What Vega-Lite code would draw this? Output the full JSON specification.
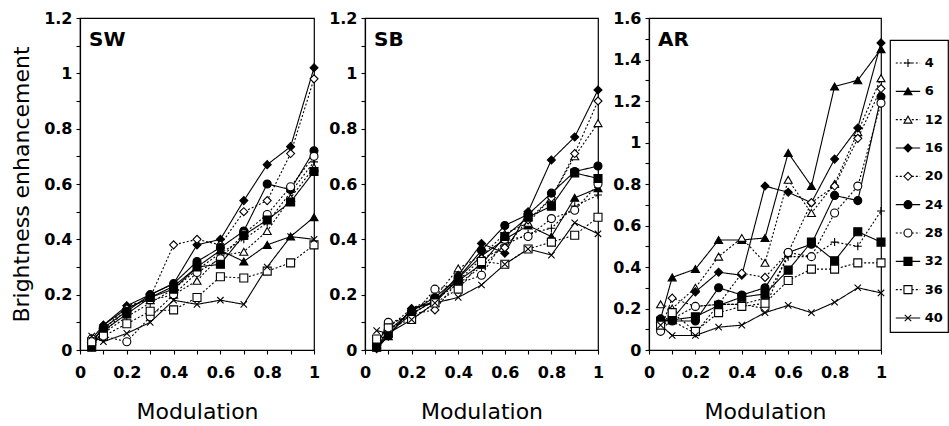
{
"$schema": "https://vega.github.io/schema/vega-lite/v6.json",
"background": "white",
"padding": {"left": 10, "top": 9, "right": 0, "bottom": 0},
"config": {
  "font": "DejaVu Sans",
  "view": {"stroke": "black", "strokeWidth": 1.2},
  "axis": {"grid": false, "domainColor": "black", "domainWidth": 1.2, "tickColor": "black", "tickWidth": 1.1, "tickSize": 4,
    "labelColor": "black", "titleColor": "black", "labelFont": "DejaVu Sans", "labelFontWeight": "bold", "labelFontSize": 16,
    "titleFont": "DejaVu Sans", "titleFontSize": 22, "titleFontWeight": "normal", "labelFlush": false, "labelOverlap": false},
  "axisX": {"labelPadding": 10, "titlePadding": 21},
  "axisY": {"labelPadding": 4, "titlePadding": 10},
  "title": {"font": "DejaVu Sans", "fontSize": 20, "fontWeight": "bold", "color": "black", "anchor": "start", "frame": "group", "baseline": "bottom", "offset": 0, "dx": 9, "dy": 44}
},
"datasets": {
"leg": [{"s":"4"},{"s":"6"},{"s":"12"},{"s":"16"},{"s":"20"},{"s":"24"},{"s":"28"},{"s":"32"},{"s":"36"},{"s":"40"}],
"d": [
{"p":"SW","s":"4","x":0.05,"y":0.03},{"p":"SW","s":"4","x":0.1,"y":0.06},{"p":"SW","s":"4","x":0.2,"y":0.12},{"p":"SW","s":"4","x":0.3,"y":0.17},{"p":"SW","s":"4","x":0.4,"y":0.22},{"p":"SW","s":"4","x":0.5,"y":0.29},{"p":"SW","s":"4","x":0.6,"y":0.35},{"p":"SW","s":"4","x":0.7,"y":0.40},{"p":"SW","s":"4","x":0.8,"y":0.46},{"p":"SW","s":"4","x":0.9,"y":0.57},{"p":"SW","s":"4","x":1,"y":0.68},
{"p":"SW","s":"6","x":0.05,"y":0.04},{"p":"SW","s":"6","x":0.1,"y":0.09},{"p":"SW","s":"6","x":0.2,"y":0.15},{"p":"SW","s":"6","x":0.3,"y":0.19},{"p":"SW","s":"6","x":0.4,"y":0.23},{"p":"SW","s":"6","x":0.5,"y":0.30},{"p":"SW","s":"6","x":0.6,"y":0.36},{"p":"SW","s":"6","x":0.7,"y":0.32},{"p":"SW","s":"6","x":0.8,"y":0.38},{"p":"SW","s":"6","x":0.9,"y":0.41},{"p":"SW","s":"6","x":1,"y":0.48},
{"p":"SW","s":"12","x":0.05,"y":0.04},{"p":"SW","s":"12","x":0.1,"y":0.07},{"p":"SW","s":"12","x":0.2,"y":0.16},{"p":"SW","s":"12","x":0.3,"y":0.18},{"p":"SW","s":"12","x":0.4,"y":0.20},{"p":"SW","s":"12","x":0.5,"y":0.25},{"p":"SW","s":"12","x":0.6,"y":0.34},{"p":"SW","s":"12","x":0.7,"y":0.355},{"p":"SW","s":"12","x":0.8,"y":0.43},{"p":"SW","s":"12","x":0.9,"y":0.55},{"p":"SW","s":"12","x":1,"y":0.66},
{"p":"SW","s":"16","x":0.05,"y":0.02},{"p":"SW","s":"16","x":0.1,"y":0.09},{"p":"SW","s":"16","x":0.2,"y":0.16},{"p":"SW","s":"16","x":0.3,"y":0.20},{"p":"SW","s":"16","x":0.4,"y":0.24},{"p":"SW","s":"16","x":0.5,"y":0.38},{"p":"SW","s":"16","x":0.6,"y":0.40},{"p":"SW","s":"16","x":0.7,"y":0.54},{"p":"SW","s":"16","x":0.8,"y":0.67},{"p":"SW","s":"16","x":0.9,"y":0.735},{"p":"SW","s":"16","x":1,"y":1.02},
{"p":"SW","s":"20","x":0.05,"y":0.04},{"p":"SW","s":"20","x":0.1,"y":0.06},{"p":"SW","s":"20","x":0.2,"y":0.15},{"p":"SW","s":"20","x":0.3,"y":0.19},{"p":"SW","s":"20","x":0.4,"y":0.38},{"p":"SW","s":"20","x":0.5,"y":0.40},{"p":"SW","s":"20","x":0.6,"y":0.38},{"p":"SW","s":"20","x":0.7,"y":0.50},{"p":"SW","s":"20","x":0.8,"y":0.54},{"p":"SW","s":"20","x":0.9,"y":0.71},{"p":"SW","s":"20","x":1,"y":0.98},
{"p":"SW","s":"24","x":0.05,"y":0.03},{"p":"SW","s":"24","x":0.1,"y":0.08},{"p":"SW","s":"24","x":0.2,"y":0.14},{"p":"SW","s":"24","x":0.3,"y":0.20},{"p":"SW","s":"24","x":0.4,"y":0.24},{"p":"SW","s":"24","x":0.5,"y":0.32},{"p":"SW","s":"24","x":0.6,"y":0.37},{"p":"SW","s":"24","x":0.7,"y":0.43},{"p":"SW","s":"24","x":0.8,"y":0.60},{"p":"SW","s":"24","x":0.9,"y":0.58},{"p":"SW","s":"24","x":1,"y":0.72},
{"p":"SW","s":"28","x":0.05,"y":0.04},{"p":"SW","s":"28","x":0.1,"y":0.05},{"p":"SW","s":"28","x":0.2,"y":0.03},{"p":"SW","s":"28","x":0.3,"y":0.12},{"p":"SW","s":"28","x":0.4,"y":0.20},{"p":"SW","s":"28","x":0.5,"y":0.28},{"p":"SW","s":"28","x":0.6,"y":0.33},{"p":"SW","s":"28","x":0.7,"y":0.42},{"p":"SW","s":"28","x":0.8,"y":0.49},{"p":"SW","s":"28","x":0.9,"y":0.59},{"p":"SW","s":"28","x":1,"y":0.70},
{"p":"SW","s":"32","x":0.05,"y":0.01},{"p":"SW","s":"32","x":0.1,"y":0.07},{"p":"SW","s":"32","x":0.2,"y":0.13},{"p":"SW","s":"32","x":0.3,"y":0.19},{"p":"SW","s":"32","x":0.4,"y":0.22},{"p":"SW","s":"32","x":0.5,"y":0.30},{"p":"SW","s":"32","x":0.6,"y":0.31},{"p":"SW","s":"32","x":0.7,"y":0.415},{"p":"SW","s":"32","x":0.8,"y":0.47},{"p":"SW","s":"32","x":0.9,"y":0.535},{"p":"SW","s":"32","x":1,"y":0.645},
{"p":"SW","s":"36","x":0.05,"y":0.03},{"p":"SW","s":"36","x":0.1,"y":0.05},{"p":"SW","s":"36","x":0.2,"y":0.095},{"p":"SW","s":"36","x":0.3,"y":0.14},{"p":"SW","s":"36","x":0.4,"y":0.145},{"p":"SW","s":"36","x":0.5,"y":0.19},{"p":"SW","s":"36","x":0.6,"y":0.265},{"p":"SW","s":"36","x":0.7,"y":0.26},{"p":"SW","s":"36","x":0.8,"y":0.285},{"p":"SW","s":"36","x":0.9,"y":0.315},{"p":"SW","s":"36","x":1,"y":0.38},
{"p":"SW","s":"40","x":0.05,"y":0.05},{"p":"SW","s":"40","x":0.1,"y":0.03},{"p":"SW","s":"40","x":0.2,"y":0.06},{"p":"SW","s":"40","x":0.3,"y":0.10},{"p":"SW","s":"40","x":0.4,"y":0.18},{"p":"SW","s":"40","x":0.5,"y":0.165},{"p":"SW","s":"40","x":0.6,"y":0.18},{"p":"SW","s":"40","x":0.7,"y":0.165},{"p":"SW","s":"40","x":0.8,"y":0.30},{"p":"SW","s":"40","x":0.9,"y":0.41},{"p":"SW","s":"40","x":1,"y":0.40},
{"p":"SB","s":"4","x":0.05,"y":0.02},{"p":"SB","s":"4","x":0.1,"y":0.07},{"p":"SB","s":"4","x":0.2,"y":0.13},{"p":"SB","s":"4","x":0.3,"y":0.18},{"p":"SB","s":"4","x":0.4,"y":0.24},{"p":"SB","s":"4","x":0.5,"y":0.30},{"p":"SB","s":"4","x":0.6,"y":0.38},{"p":"SB","s":"4","x":0.7,"y":0.42},{"p":"SB","s":"4","x":0.8,"y":0.44},{"p":"SB","s":"4","x":0.9,"y":0.52},{"p":"SB","s":"4","x":1,"y":0.56},
{"p":"SB","s":"6","x":0.05,"y":0.01},{"p":"SB","s":"6","x":0.1,"y":0.05},{"p":"SB","s":"6","x":0.2,"y":0.15},{"p":"SB","s":"6","x":0.3,"y":0.17},{"p":"SB","s":"6","x":0.4,"y":0.26},{"p":"SB","s":"6","x":0.5,"y":0.34},{"p":"SB","s":"6","x":0.6,"y":0.40},{"p":"SB","s":"6","x":0.7,"y":0.45},{"p":"SB","s":"6","x":0.8,"y":0.41},{"p":"SB","s":"6","x":0.9,"y":0.55},{"p":"SB","s":"6","x":1,"y":0.585},
{"p":"SB","s":"12","x":0.05,"y":0.03},{"p":"SB","s":"12","x":0.1,"y":0.08},{"p":"SB","s":"12","x":0.2,"y":0.15},{"p":"SB","s":"12","x":0.3,"y":0.19},{"p":"SB","s":"12","x":0.4,"y":0.295},{"p":"SB","s":"12","x":0.5,"y":0.34},{"p":"SB","s":"12","x":0.6,"y":0.42},{"p":"SB","s":"12","x":0.7,"y":0.46},{"p":"SB","s":"12","x":0.8,"y":0.55},{"p":"SB","s":"12","x":0.9,"y":0.70},{"p":"SB","s":"12","x":1,"y":0.82},
{"p":"SB","s":"16","x":0.05,"y":0.005},{"p":"SB","s":"16","x":0.1,"y":0.05},{"p":"SB","s":"16","x":0.2,"y":0.15},{"p":"SB","s":"16","x":0.3,"y":0.175},{"p":"SB","s":"16","x":0.4,"y":0.27},{"p":"SB","s":"16","x":0.5,"y":0.385},{"p":"SB","s":"16","x":0.6,"y":0.35},{"p":"SB","s":"16","x":0.7,"y":0.50},{"p":"SB","s":"16","x":0.8,"y":0.687},{"p":"SB","s":"16","x":0.9,"y":0.77},{"p":"SB","s":"16","x":1,"y":0.94},
{"p":"SB","s":"20","x":0.05,"y":0.02},{"p":"SB","s":"20","x":0.1,"y":0.09},{"p":"SB","s":"20","x":0.2,"y":0.13},{"p":"SB","s":"20","x":0.3,"y":0.145},{"p":"SB","s":"20","x":0.4,"y":0.25},{"p":"SB","s":"20","x":0.5,"y":0.33},{"p":"SB","s":"20","x":0.6,"y":0.37},{"p":"SB","s":"20","x":0.7,"y":0.47},{"p":"SB","s":"20","x":0.8,"y":0.55},{"p":"SB","s":"20","x":0.9,"y":0.71},{"p":"SB","s":"20","x":1,"y":0.90},
{"p":"SB","s":"24","x":0.05,"y":0.01},{"p":"SB","s":"24","x":0.1,"y":0.07},{"p":"SB","s":"24","x":0.2,"y":0.14},{"p":"SB","s":"24","x":0.3,"y":0.19},{"p":"SB","s":"24","x":0.4,"y":0.26},{"p":"SB","s":"24","x":0.5,"y":0.36},{"p":"SB","s":"24","x":0.6,"y":0.45},{"p":"SB","s":"24","x":0.7,"y":0.49},{"p":"SB","s":"24","x":0.8,"y":0.567},{"p":"SB","s":"24","x":0.9,"y":0.645},{"p":"SB","s":"24","x":1,"y":0.665},
{"p":"SB","s":"28","x":0.05,"y":0.02},{"p":"SB","s":"28","x":0.1,"y":0.10},{"p":"SB","s":"28","x":0.2,"y":0.12},{"p":"SB","s":"28","x":0.3,"y":0.22},{"p":"SB","s":"28","x":0.4,"y":0.24},{"p":"SB","s":"28","x":0.5,"y":0.27},{"p":"SB","s":"28","x":0.6,"y":0.40},{"p":"SB","s":"28","x":0.7,"y":0.41},{"p":"SB","s":"28","x":0.8,"y":0.475},{"p":"SB","s":"28","x":0.9,"y":0.505},{"p":"SB","s":"28","x":1,"y":0.60},
{"p":"SB","s":"32","x":0.05,"y":0.01},{"p":"SB","s":"32","x":0.1,"y":0.06},{"p":"SB","s":"32","x":0.2,"y":0.13},{"p":"SB","s":"32","x":0.3,"y":0.18},{"p":"SB","s":"32","x":0.4,"y":0.25},{"p":"SB","s":"32","x":0.5,"y":0.31},{"p":"SB","s":"32","x":0.6,"y":0.41},{"p":"SB","s":"32","x":0.7,"y":0.48},{"p":"SB","s":"32","x":0.8,"y":0.52},{"p":"SB","s":"32","x":0.9,"y":0.64},{"p":"SB","s":"32","x":1,"y":0.62},
{"p":"SB","s":"36","x":0.05,"y":0.04},{"p":"SB","s":"36","x":0.1,"y":0.08},{"p":"SB","s":"36","x":0.2,"y":0.11},{"p":"SB","s":"36","x":0.3,"y":0.17},{"p":"SB","s":"36","x":0.4,"y":0.22},{"p":"SB","s":"36","x":0.5,"y":0.32},{"p":"SB","s":"36","x":0.6,"y":0.31},{"p":"SB","s":"36","x":0.7,"y":0.365},{"p":"SB","s":"36","x":0.8,"y":0.39},{"p":"SB","s":"36","x":0.9,"y":0.415},{"p":"SB","s":"36","x":1,"y":0.48},
{"p":"SB","s":"40","x":0.05,"y":0.07},{"p":"SB","s":"40","x":0.1,"y":0.06},{"p":"SB","s":"40","x":0.2,"y":0.11},{"p":"SB","s":"40","x":0.3,"y":0.17},{"p":"SB","s":"40","x":0.4,"y":0.19},{"p":"SB","s":"40","x":0.5,"y":0.235},{"p":"SB","s":"40","x":0.6,"y":0.31},{"p":"SB","s":"40","x":0.7,"y":0.365},{"p":"SB","s":"40","x":0.8,"y":0.343},{"p":"SB","s":"40","x":0.9,"y":0.46},{"p":"SB","s":"40","x":1,"y":0.42},
{"p":"AR","s":"4","x":0.05,"y":0.12},{"p":"AR","s":"4","x":0.1,"y":0.14},{"p":"AR","s":"4","x":0.2,"y":0.08},{"p":"AR","s":"4","x":0.3,"y":0.22},{"p":"AR","s":"4","x":0.4,"y":0.22},{"p":"AR","s":"4","x":0.5,"y":0.25},{"p":"AR","s":"4","x":0.6,"y":0.45},{"p":"AR","s":"4","x":0.7,"y":0.45},{"p":"AR","s":"4","x":0.8,"y":0.52},{"p":"AR","s":"4","x":0.9,"y":0.50},{"p":"AR","s":"4","x":1,"y":0.67},
{"p":"AR","s":"6","x":0.05,"y":0.15},{"p":"AR","s":"6","x":0.1,"y":0.35},{"p":"AR","s":"6","x":0.2,"y":0.39},{"p":"AR","s":"6","x":0.3,"y":0.53},{"p":"AR","s":"6","x":0.4,"y":0.53},{"p":"AR","s":"6","x":0.5,"y":0.54},{"p":"AR","s":"6","x":0.6,"y":0.95},{"p":"AR","s":"6","x":0.7,"y":0.79},{"p":"AR","s":"6","x":0.8,"y":1.27},{"p":"AR","s":"6","x":0.9,"y":1.30},{"p":"AR","s":"6","x":1,"y":1.45},
{"p":"AR","s":"12","x":0.05,"y":0.22},{"p":"AR","s":"12","x":0.1,"y":0.20},{"p":"AR","s":"12","x":0.2,"y":0.30},{"p":"AR","s":"12","x":0.3,"y":0.45},{"p":"AR","s":"12","x":0.4,"y":0.54},{"p":"AR","s":"12","x":0.5,"y":0.42},{"p":"AR","s":"12","x":0.6,"y":0.82},{"p":"AR","s":"12","x":0.7,"y":0.66},{"p":"AR","s":"12","x":0.8,"y":0.80},{"p":"AR","s":"12","x":0.9,"y":1.05},{"p":"AR","s":"12","x":1,"y":1.31},
{"p":"AR","s":"16","x":0.05,"y":0.13},{"p":"AR","s":"16","x":0.1,"y":0.15},{"p":"AR","s":"16","x":0.2,"y":0.28},{"p":"AR","s":"16","x":0.3,"y":0.375},{"p":"AR","s":"16","x":0.4,"y":0.36},{"p":"AR","s":"16","x":0.5,"y":0.79},{"p":"AR","s":"16","x":0.6,"y":0.76},{"p":"AR","s":"16","x":0.7,"y":0.71},{"p":"AR","s":"16","x":0.8,"y":0.92},{"p":"AR","s":"16","x":0.9,"y":1.07},{"p":"AR","s":"16","x":1,"y":1.48},
{"p":"AR","s":"20","x":0.05,"y":0.10},{"p":"AR","s":"20","x":0.1,"y":0.25},{"p":"AR","s":"20","x":0.2,"y":0.21},{"p":"AR","s":"20","x":0.3,"y":0.22},{"p":"AR","s":"20","x":0.4,"y":0.37},{"p":"AR","s":"20","x":0.5,"y":0.35},{"p":"AR","s":"20","x":0.6,"y":0.47},{"p":"AR","s":"20","x":0.7,"y":0.71},{"p":"AR","s":"20","x":0.8,"y":0.79},{"p":"AR","s":"20","x":0.9,"y":1.02},{"p":"AR","s":"20","x":1,"y":1.26},
{"p":"AR","s":"24","x":0.05,"y":0.15},{"p":"AR","s":"24","x":0.1,"y":0.14},{"p":"AR","s":"24","x":0.2,"y":0.14},{"p":"AR","s":"24","x":0.3,"y":0.30},{"p":"AR","s":"24","x":0.4,"y":0.265},{"p":"AR","s":"24","x":0.5,"y":0.30},{"p":"AR","s":"24","x":0.6,"y":0.47},{"p":"AR","s":"24","x":0.7,"y":0.51},{"p":"AR","s":"24","x":0.8,"y":0.745},{"p":"AR","s":"24","x":0.9,"y":0.72},{"p":"AR","s":"24","x":1,"y":1.22},
{"p":"AR","s":"28","x":0.05,"y":0.09},{"p":"AR","s":"28","x":0.1,"y":0.15},{"p":"AR","s":"28","x":0.2,"y":0.21},{"p":"AR","s":"28","x":0.3,"y":0.22},{"p":"AR","s":"28","x":0.4,"y":0.22},{"p":"AR","s":"28","x":0.5,"y":0.20},{"p":"AR","s":"28","x":0.6,"y":0.47},{"p":"AR","s":"28","x":0.7,"y":0.45},{"p":"AR","s":"28","x":0.8,"y":0.66},{"p":"AR","s":"28","x":0.9,"y":0.79},{"p":"AR","s":"28","x":1,"y":1.19},
{"p":"AR","s":"32","x":0.05,"y":0.14},{"p":"AR","s":"32","x":0.1,"y":0.145},{"p":"AR","s":"32","x":0.2,"y":0.16},{"p":"AR","s":"32","x":0.3,"y":0.215},{"p":"AR","s":"32","x":0.4,"y":0.255},{"p":"AR","s":"32","x":0.5,"y":0.27},{"p":"AR","s":"32","x":0.6,"y":0.385},{"p":"AR","s":"32","x":0.7,"y":0.52},{"p":"AR","s":"32","x":0.8,"y":0.43},{"p":"AR","s":"32","x":0.9,"y":0.57},{"p":"AR","s":"32","x":1,"y":0.52},
{"p":"AR","s":"36","x":0.05,"y":0.12},{"p":"AR","s":"36","x":0.1,"y":0.18},{"p":"AR","s":"36","x":0.2,"y":0.09},{"p":"AR","s":"36","x":0.3,"y":0.18},{"p":"AR","s":"36","x":0.4,"y":0.21},{"p":"AR","s":"36","x":0.5,"y":0.225},{"p":"AR","s":"36","x":0.6,"y":0.335},{"p":"AR","s":"36","x":0.7,"y":0.39},{"p":"AR","s":"36","x":0.8,"y":0.39},{"p":"AR","s":"36","x":0.9,"y":0.42},{"p":"AR","s":"36","x":1,"y":0.42},
{"p":"AR","s":"40","x":0.05,"y":0.12},{"p":"AR","s":"40","x":0.1,"y":0.07},{"p":"AR","s":"40","x":0.2,"y":0.07},{"p":"AR","s":"40","x":0.3,"y":0.11},{"p":"AR","s":"40","x":0.4,"y":0.12},{"p":"AR","s":"40","x":0.5,"y":0.18},{"p":"AR","s":"40","x":0.6,"y":0.215},{"p":"AR","s":"40","x":0.7,"y":0.18},{"p":"AR","s":"40","x":0.8,"y":0.23},{"p":"AR","s":"40","x":0.9,"y":0.30},{"p":"AR","s":"40","x":1,"y":0.275}
]
},
"spacing": 1,
"hconcat": [
 {
  "bounds": "flush",
  "spacing": 51,
  "hconcat": [
   {
    "width": 234, "height": 332,
    "data": {"name": "d"},
    "transform": [{"filter": "datum.p == 'SW'"}],
    "title": {"text": "SW"},
    "encoding": {
      "x": {"field": "x", "type": "quantitative", "scale": {"domain": [0, 1], "nice": false},
        "axis": {"title": "Modulation", "values": [0,0.1,0.2,0.3,0.4,0.5,0.6,0.7,0.8,0.9,1], "format": "~g", "labelExpr": "round(datum.value*10) % 2 == 0 ? datum.label : ''"}},
      "y": {"field": "y", "type": "quantitative", "scale": {"domain": [0, 1.2], "nice": false},
        "axis": {"title": "Brightness enhancement", "values": [0,0.1,0.2,0.3,0.4,0.5,0.6,0.7,0.8,0.9,1,1.1,1.2], "format": "~g", "labelExpr": "round(datum.value*10) % 2 == 0 ? datum.label : ''"}}
    },
    "layer": [
      {"mark": {"type": "line", "color": "black", "strokeWidth": 1.1},
       "encoding": {"detail": {"field": "s"},
         "strokeDash": {"field": "s", "type": "nominal", "legend": null, "scale": {"domain": ["4","6","12","16","20","24","28","32","36","40"], "range": [[2,2],[1,0],[2,2],[1,0],[2,2],[1,0],[2,2],[1,0],[2,2],[1,0]]}}}},
      {"mark": {"type": "point", "filled": true, "stroke": "black", "strokeWidth": 1.1, "size": 64, "opacity": 1},
       "encoding": {
         "shape": {"field": "s", "type": "nominal", "legend": null, "scale": {"domain": ["4","6","12","16","20","24","28","32","36","40"], "range": ["M-1,0H1M0,-1V1","triangle-up","triangle-up","diamond","diamond","circle","circle","square","square","M-0.8,-0.8L0.8,0.8M-0.8,0.8L0.8,-0.8"]}},
         "fill": {"field": "s", "type": "nominal", "legend": null, "scale": {"domain": ["4","6","12","16","20","24","28","32","36","40"], "range": ["white","black","white","black","white","black","white","black","white","black"]}}}}
    ]
   },
   {
    "width": 233, "height": 332,
    "data": {"name": "d"},
    "transform": [{"filter": "datum.p == 'SB'"}],
    "title": {"text": "SB"},
    "encoding": {
      "x": {"field": "x", "type": "quantitative", "scale": {"domain": [0, 1], "nice": false},
        "axis": {"title": "Modulation", "values": [0,0.1,0.2,0.3,0.4,0.5,0.6,0.7,0.8,0.9,1], "format": "~g", "labelExpr": "round(datum.value*10) % 2 == 0 ? datum.label : ''"}},
      "y": {"field": "y", "type": "quantitative", "scale": {"domain": [0, 1.2], "nice": false},
        "axis": {"title": null, "values": [0,0.1,0.2,0.3,0.4,0.5,0.6,0.7,0.8,0.9,1,1.1,1.2], "format": "~g", "labelExpr": "round(datum.value*10) % 2 == 0 ? datum.label : ''"}}
    },
    "layer": [
      {"mark": {"type": "line", "color": "black", "strokeWidth": 1.1},
       "encoding": {"detail": {"field": "s"},
         "strokeDash": {"field": "s", "type": "nominal", "legend": null, "scale": {"domain": ["4","6","12","16","20","24","28","32","36","40"], "range": [[2,2],[1,0],[2,2],[1,0],[2,2],[1,0],[2,2],[1,0],[2,2],[1,0]]}}}},
      {"mark": {"type": "point", "filled": true, "stroke": "black", "strokeWidth": 1.1, "size": 64, "opacity": 1},
       "encoding": {
         "shape": {"field": "s", "type": "nominal", "legend": null, "scale": {"domain": ["4","6","12","16","20","24","28","32","36","40"], "range": ["M-1,0H1M0,-1V1","triangle-up","triangle-up","diamond","diamond","circle","circle","square","square","M-0.8,-0.8L0.8,0.8M-0.8,0.8L0.8,-0.8"]}},
         "fill": {"field": "s", "type": "nominal", "legend": null, "scale": {"domain": ["4","6","12","16","20","24","28","32","36","40"], "range": ["white","black","white","black","white","black","white","black","white","black"]}}}}
    ]
   },
   {
    "width": 232, "height": 332,
    "data": {"name": "d"},
    "transform": [{"filter": "datum.p == 'AR'"}],
    "title": {"text": "AR"},
    "encoding": {
      "x": {"field": "x", "type": "quantitative", "scale": {"domain": [0, 1], "nice": false},
        "axis": {"title": "Modulation", "values": [0,0.1,0.2,0.3,0.4,0.5,0.6,0.7,0.8,0.9,1], "format": "~g", "labelExpr": "round(datum.value*10) % 2 == 0 ? datum.label : ''"}},
      "y": {"field": "y", "type": "quantitative", "scale": {"domain": [0, 1.6], "nice": false},
        "axis": {"title": null, "values": [0,0.1,0.2,0.3,0.4,0.5,0.6,0.7,0.8,0.9,1,1.1,1.2,1.3,1.4,1.5,1.6], "format": "~g", "labelExpr": "round(datum.value*10) % 2 == 0 ? datum.label : ''"}}
    },
    "layer": [
      {"mark": {"type": "line", "color": "black", "strokeWidth": 1.1},
       "encoding": {"detail": {"field": "s"},
         "strokeDash": {"field": "s", "type": "nominal", "legend": null, "scale": {"domain": ["4","6","12","16","20","24","28","32","36","40"], "range": [[2,2],[1,0],[2,2],[1,0],[2,2],[1,0],[2,2],[1,0],[2,2],[1,0]]}}}},
      {"mark": {"type": "point", "filled": true, "stroke": "black", "strokeWidth": 1.1, "size": 64, "opacity": 1},
       "encoding": {
         "shape": {"field": "s", "type": "nominal", "legend": null, "scale": {"domain": ["4","6","12","16","20","24","28","32","36","40"], "range": ["M-1,0H1M0,-1V1","triangle-up","triangle-up","diamond","diamond","circle","circle","square","square","M-0.8,-0.8L0.8,0.8M-0.8,0.8L0.8,-0.8"]}},
         "fill": {"field": "s", "type": "nominal", "legend": null, "scale": {"domain": ["4","6","12","16","20","24","28","32","36","40"], "range": ["white","black","white","black","white","black","white","black","white","black"]}}}}
    ]
   }
  ]
 },
 {
  "bounds": "flush",
  "spacing": 0,
  "vconcat": [
   {"width": 58, "height": 22, "data": {"values": []}, "mark": "point", "view": {"stroke": null}},
   {
    "width": 58, "height": 292,
    "data": {"name": "leg"},
    "encoding": {
      "y": {"field": "s", "type": "nominal", "axis": null, "scale": {"type": "point", "padding": 0, "domain": ["4","6","12","16","20","24","28","32","36","40"], "range": [23, 278]}}
    },
    "layer": [
      {"mark": {"type": "rule", "color": "black", "strokeWidth": 1.1},
       "encoding": {"x": {"datum": 0.1, "type": "quantitative", "scale": {"domain": [0, 1]}, "axis": null}, "x2": {"datum": 0.52},
         "strokeDash": {"field": "s", "type": "nominal", "legend": null, "scale": {"domain": ["4","6","12","16","20","24","28","32","36","40"], "range": [[2,2],[1,0],[2,2],[1,0],[2,2],[1,0],[2,2],[1,0],[2,2],[1,0]]}}}},
      {"mark": {"type": "point", "filled": true, "stroke": "black", "strokeWidth": 1.1, "size": 64, "opacity": 1},
       "encoding": {"x": {"datum": 0.31, "type": "quantitative"},
         "shape": {"field": "s", "type": "nominal", "legend": null, "scale": {"domain": ["4","6","12","16","20","24","28","32","36","40"], "range": ["M-1,0H1M0,-1V1","triangle-up","triangle-up","diamond","diamond","circle","circle","square","square","M-0.8,-0.8L0.8,0.8M-0.8,0.8L0.8,-0.8"]}},
         "fill": {"field": "s", "type": "nominal", "legend": null, "scale": {"domain": ["4","6","12","16","20","24","28","32","36","40"], "range": ["white","black","white","black","white","black","white","black","white","black"]}}}},
      {"mark": {"type": "text", "align": "left", "baseline": "middle", "fontWeight": "bold", "fontSize": 13, "color": "black", "font": "DejaVu Sans"},
       "encoding": {"x": {"datum": 0.6, "type": "quantitative"}, "text": {"field": "s"}}}
    ]
   }
  ]
 }
]
}
